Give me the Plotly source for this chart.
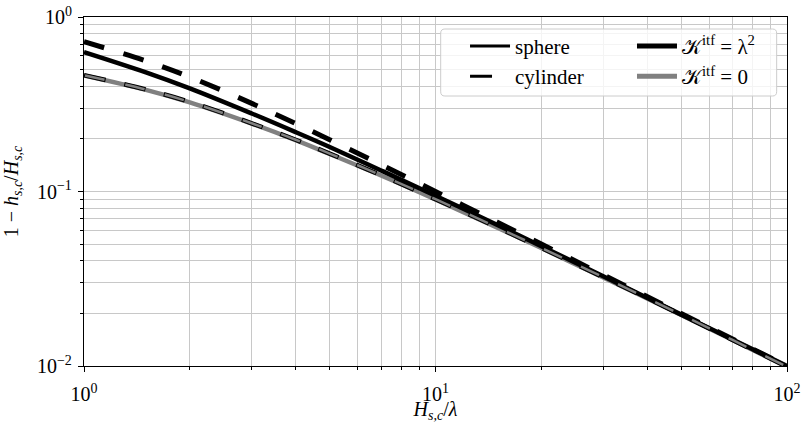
import plotly.graph_objects as go

# ---- data ----
x_vals = [1, 1.5, 2, 3, 4, 5, 7, 10, 15, 20, 30, 50, 70, 100]
sphere_k2 = [0.630, 0.482, 0.390, 0.280, 0.219, 0.180, 0.132, 0.0946, 0.0642, 0.0486, 0.0327, 0.0197, 0.0142, 0.0100]
cylinder_k2 = [0.722, 0.560, 0.453, 0.320, 0.245, 0.198, 0.1425, 0.1000, 0.0667, 0.0500, 0.0333, 0.0200, 0.01429, 0.0100]
sphere_k0 = [0.462, 0.382, 0.324, 0.245, 0.197, 0.164, 0.1235, 0.0900, 0.0620, 0.0474, 0.0322, 0.0196, 0.0141, 0.0099]
cylinder_k0 = [0.464, 0.384, 0.326, 0.246, 0.198, 0.165, 0.1240, 0.0903, 0.0622, 0.0475, 0.0323, 0.0197, 0.0141, 0.0099]

x_ticks = [1, 10, 100]
x_ticktext = ["10<sup>0</sup>", "10<sup>1</sup>", "10<sup>2</sup>"]
y_ticks = [0.01, 0.1, 1]
y_ticktext = ["10<sup>−2</sup>", "10<sup>−1</sup>", "10<sup>0</sup>"]
x_minor = [m * 10 ** d for d in range(0, 2) for m in range(2, 10)]
y_minor = [m * 10 ** d for d in range(-2, 0) for m in range(2, 10)]

legend_names = ["sphere", "cylinder", "𝒦<sup>itf</sup> = λ<sup>2</sup>", "𝒦<sup>itf</sup> = 0"]

FONT = "Liberation Serif"
FS = 20
GRID = "#c8c8c8"
GRAY = "#808080"

fig = go.Figure()

fig.add_trace(go.Scatter(x=x_vals, y=sphere_k0, mode="lines", line=dict(color=GRAY, width=4.5, shape="spline"),
                         showlegend=False, hoverinfo="skip"))
fig.add_trace(go.Scatter(x=x_vals, y=sphere_k2, mode="lines", line=dict(color="black", width=4.5, shape="spline"),
                         showlegend=False, hoverinfo="skip"))
fig.add_trace(go.Scatter(x=x_vals, y=cylinder_k2, mode="lines",
                         line=dict(color="black", width=5, dash="21px,20px", shape="spline"),
                         showlegend=False, hoverinfo="skip"))
fig.add_trace(go.Scatter(x=x_vals, y=cylinder_k0, mode="lines",
                         line=dict(color="black", width=4.5, dash="22px,19px", shape="spline"),
                         showlegend=False, hoverinfo="skip"))
fig.add_trace(go.Scatter(x=x_vals, y=cylinder_k0, mode="lines",
                         line=dict(color=GRAY, width=2.5, dash="0px,1px,20px,20px", shape="spline"),
                         showlegend=False, hoverinfo="skip"))

# legend entries
fig.add_trace(go.Scatter(x=[None], y=[None], mode="lines", name=legend_names[0],
                         line=dict(color="black", width=3), legend="legend", legendgroup="a"))
fig.add_trace(go.Scatter(x=[None], y=[None], mode="lines", name=legend_names[1],
                         line=dict(color="black", width=3, dash="22px,20px"), legend="legend", legendgroup="b"))
fig.add_trace(go.Scatter(x=[None], y=[None], mode="lines", name=legend_names[2],
                         line=dict(color="black", width=5), legend="legend2", legendgroup="c"))
fig.add_trace(go.Scatter(x=[None], y=[None], mode="lines", name=legend_names[3],
                         line=dict(color=GRAY, width=5), legend="legend2", legendgroup="d"))

# legend frame
x0, x1, y0, y1 = 0.5074, 0.9853, 0.7736, 0.9656
rx, ry = 0.006, 0.012
path = (f"M{x0+rx},{y0} L{x1-rx},{y0} Q{x1},{y0} {x1},{y0+ry} L{x1},{y1-ry} Q{x1},{y1} {x1-rx},{y1} "
        f"L{x0+rx},{y1} Q{x0},{y1} {x0},{y1-ry} L{x0},{y0+ry} Q{x0},{y0} {x0+rx},{y0} Z")
fig.add_shape(type="path", path=path, xref="paper", yref="paper", layer="above",
              fillcolor="rgba(255,255,255,0.8)", line=dict(color="#cccccc", width=1))

leg_common = dict(bgcolor="rgba(0,0,0,0)", borderwidth=0, font=dict(family=FONT, size=21, color="black"),
                  xanchor="left", yanchor="top", tracegroupgap=0, itemwidth=40)

axis_common = dict(type="log", showline=True, linecolor="black", linewidth=1.25, mirror=True,
                   ticks="outside", ticklen=5, tickwidth=1, tickcolor="black", automargin=False,
                   ticklabeloverflow="allow",
                   showgrid=True, gridcolor=GRID, gridwidth=1, zeroline=False,
                   tickfont=dict(family=FONT, size=FS, color="black"))

fig.update_layout(
    width=802, height=423,
    margin=dict(l=84, r=15, t=17, b=57),
    paper_bgcolor="white", plot_bgcolor="white",
    font=dict(family=FONT, size=FS, color="black"),
    legend=dict(x=0.542, y=0.975, **leg_common),
    legend2=dict(x=0.7795, y=0.975, **leg_common),
    xaxis=dict(range=[0, 2], tickmode="array", tickvals=x_ticks, ticktext=x_ticktext, ticklabelstandoff=5,
               minor=dict(tickmode="array", tickvals=x_minor, showgrid=True, gridcolor=GRID, gridwidth=1,
                          ticks="outside", ticklen=3, tickcolor="black"),
               title=dict(text="<i>H</i><sub><i>s,c</i></sub>/<i>λ</i>", standoff=5,
                          font=dict(family=FONT, size=FS)),
               **axis_common),
    yaxis=dict(range=[-2, 0], tickmode="array", tickvals=y_ticks, ticktext=y_ticktext, ticklabelstandoff=2,
               minor=dict(tickmode="array", tickvals=y_minor, showgrid=True, gridcolor=GRID, gridwidth=1,
                          ticks="outside", ticklen=3, tickcolor="black"),
               title=dict(text="1 − <i>h</i><sub><i>s,c</i></sub>/<i>H</i><sub><i>s,c</i></sub>", standoff=14,
                          font=dict(family=FONT, size=FS)),
               **axis_common),
)

# remove the page's default body margin so the 802x423 figure fills the window exactly
fig.write_html("out.html", config={"displayModeBar": False},
               post_script="document.body.style.margin='0';")
